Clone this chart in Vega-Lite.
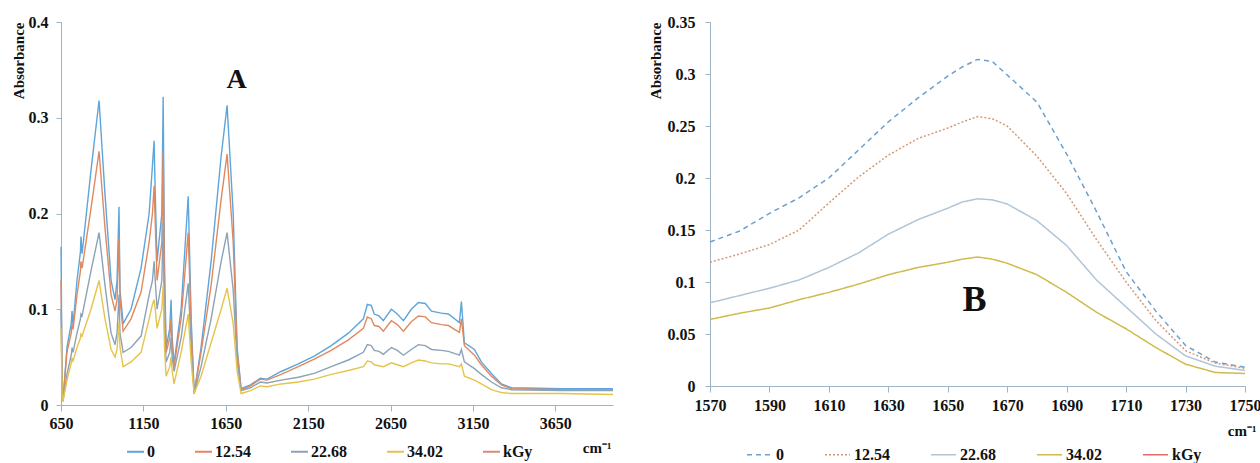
{
"$schema":"https://vega.github.io/schema/vega-lite/v6.json",
"padding":{"left":10,"top":14,"right":5,"bottom":0},
"background":"white",
"spacing":31,
"config":{"view":{"stroke":null},"font":"Liberation Serif",
"axis":{"labelFont":"Liberation Serif","labelFontWeight":"bold","labelFontSize":16,"labelColor":"#111","titleFont":"Liberation Serif","titleFontWeight":"bold","titleFontSize":15,"titleColor":"#111","domainColor":"#9DB4C6","tickColor":"#9DB4C6","grid":false,"tickSize":5,"labelFlush":false,"labelOverlap":false},
"legend":{"labelFont":"Liberation Serif","labelFontWeight":"bold","labelFontSize":16,"labelColor":"#111"}},
"datasets":{
"A":[
{"wn":650,"s":"0","a":0.165},{"wn":657,"s":"0","a":0.02},{"wn":662,"s":"0","a":0.004},{"wn":686,"s":"0","a":0.06},{"wn":712,"s":"0","a":0.085},{"wn":717,"s":"0","a":0.098},{"wn":723,"s":"0","a":0.083},{"wn":747,"s":"0","a":0.13},{"wn":768,"s":"0","a":0.16},{"wn":771,"s":"0","a":0.176},
{"wn":778,"s":"0","a":0.158},{"wn":832,"s":"0","a":0.245},{"wn":881,"s":"0","a":0.318},{"wn":917,"s":"0","a":0.22},{"wn":954,"s":"0","a":0.13},{"wn":978,"s":"0","a":0.11},{"wn":990,"s":"0","a":0.13},{"wn":1002,"s":"0","a":0.207},{"wn":1008,"s":"0","a":0.12},{"wn":1027,"s":"0","a":0.085},
{"wn":1075,"s":"0","a":0.1},{"wn":1136,"s":"0","a":0.143},{"wn":1185,"s":"0","a":0.2},{"wn":1205,"s":"0","a":0.25},{"wn":1215,"s":"0","a":0.276},{"wn":1222,"s":"0","a":0.22},{"wn":1233,"s":"0","a":0.15},{"wn":1262,"s":"0","a":0.2},{"wn":1270,"s":"0","a":0.322},{"wn":1278,"s":"0","a":0.15},
{"wn":1288,"s":"0","a":0.06},{"wn":1310,"s":"0","a":0.08},{"wn":1318,"s":"0","a":0.11},{"wn":1325,"s":"0","a":0.07},{"wn":1336,"s":"0","a":0.043},{"wn":1379,"s":"0","a":0.1},{"wn":1422,"s":"0","a":0.218},{"wn":1440,"s":"0","a":0.09},{"wn":1458,"s":"0","a":0.012},{"wn":1500,"s":"0","a":0.06},
{"wn":1561,"s":"0","a":0.15},{"wn":1622,"s":"0","a":0.26},{"wn":1658,"s":"0","a":0.313},{"wn":1695,"s":"0","a":0.2},{"wn":1719,"s":"0","a":0.06},{"wn":1743,"s":"0","a":0.017},{"wn":1800,"s":"0","a":0.021},{"wn":1860,"s":"0","a":0.028},{"wn":1900,"s":"0","a":0.027},{"wn":1986,"s":"0","a":0.035},
{"wn":2090,"s":"0","a":0.043},{"wn":2187,"s":"0","a":0.051},{"wn":2290,"s":"0","a":0.062},{"wn":2394,"s":"0","a":0.075},{"wn":2485,"s":"0","a":0.09},{"wn":2509,"s":"0","a":0.105},{"wn":2533,"s":"0","a":0.104},{"wn":2551,"s":"0","a":0.095},{"wn":2580,"s":"0","a":0.093},{"wn":2606,"s":"0","a":0.088},
{"wn":2655,"s":"0","a":0.1},{"wn":2691,"s":"0","a":0.095},{"wn":2728,"s":"0","a":0.088},{"wn":2776,"s":"0","a":0.1},{"wn":2819,"s":"0","a":0.107},{"wn":2861,"s":"0","a":0.106},{"wn":2898,"s":"0","a":0.098},{"wn":2958,"s":"0","a":0.096},{"wn":3001,"s":"0","a":0.095},{"wn":3068,"s":"0","a":0.086},
{"wn":3080,"s":"0","a":0.108},{"wn":3098,"s":"0","a":0.065},{"wn":3159,"s":"0","a":0.058},{"wn":3201,"s":"0","a":0.045},{"wn":3262,"s":"0","a":0.033},{"wn":3323,"s":"0","a":0.022},{"wn":3384,"s":"0","a":0.018},{"wn":3688,"s":"0","a":0.017},{"wn":4000,"s":"0","a":0.017},
{"wn":650,"s":"12.54","a":0.13},{"wn":657,"s":"12.54","a":0.018},{"wn":662,"s":"12.54","a":0.004},{"wn":686,"s":"12.54","a":0.055},{"wn":712,"s":"12.54","a":0.075},{"wn":717,"s":"12.54","a":0.085},{"wn":723,"s":"12.54","a":0.079},{"wn":747,"s":"12.54","a":0.115},{"wn":768,"s":"12.54","a":0.14},{"wn":771,"s":"12.54","a":0.15},
{"wn":778,"s":"12.54","a":0.143},{"wn":832,"s":"12.54","a":0.205},{"wn":881,"s":"12.54","a":0.265},{"wn":917,"s":"12.54","a":0.185},{"wn":954,"s":"12.54","a":0.115},{"wn":978,"s":"12.54","a":0.098},{"wn":990,"s":"12.54","a":0.11},{"wn":1002,"s":"12.54","a":0.175},{"wn":1008,"s":"12.54","a":0.11},{"wn":1027,"s":"12.54","a":0.077},
{"wn":1075,"s":"12.54","a":0.09},{"wn":1136,"s":"12.54","a":0.118},{"wn":1185,"s":"12.54","a":0.17},{"wn":1205,"s":"12.54","a":0.2},{"wn":1215,"s":"12.54","a":0.229},{"wn":1222,"s":"12.54","a":0.19},{"wn":1233,"s":"12.54","a":0.13},{"wn":1262,"s":"12.54","a":0.17},{"wn":1270,"s":"12.54","a":0.265},{"wn":1278,"s":"12.54","a":0.12},
{"wn":1288,"s":"12.54","a":0.055},{"wn":1310,"s":"12.54","a":0.07},{"wn":1318,"s":"12.54","a":0.09},{"wn":1325,"s":"12.54","a":0.06},{"wn":1336,"s":"12.54","a":0.04},{"wn":1379,"s":"12.54","a":0.09},{"wn":1422,"s":"12.54","a":0.18},{"wn":1440,"s":"12.54","a":0.08},{"wn":1458,"s":"12.54","a":0.012},{"wn":1500,"s":"12.54","a":0.055},
{"wn":1561,"s":"12.54","a":0.125},{"wn":1622,"s":"12.54","a":0.215},{"wn":1658,"s":"12.54","a":0.262},{"wn":1695,"s":"12.54","a":0.17},{"wn":1719,"s":"12.54","a":0.055},{"wn":1743,"s":"12.54","a":0.016},{"wn":1800,"s":"12.54","a":0.02},{"wn":1860,"s":"12.54","a":0.027},{"wn":1900,"s":"12.54","a":0.026},{"wn":1986,"s":"12.54","a":0.032},
{"wn":2090,"s":"12.54","a":0.04},{"wn":2187,"s":"12.54","a":0.048},{"wn":2290,"s":"12.54","a":0.057},{"wn":2394,"s":"12.54","a":0.068},{"wn":2485,"s":"12.54","a":0.08},{"wn":2509,"s":"12.54","a":0.092},{"wn":2533,"s":"12.54","a":0.09},{"wn":2551,"s":"12.54","a":0.083},{"wn":2580,"s":"12.54","a":0.082},{"wn":2606,"s":"12.54","a":0.077},
{"wn":2655,"s":"12.54","a":0.088},{"wn":2691,"s":"12.54","a":0.084},{"wn":2728,"s":"12.54","a":0.077},{"wn":2776,"s":"12.54","a":0.087},{"wn":2819,"s":"12.54","a":0.093},{"wn":2861,"s":"12.54","a":0.092},{"wn":2898,"s":"12.54","a":0.086},{"wn":2958,"s":"12.54","a":0.084},{"wn":3001,"s":"12.54","a":0.083},{"wn":3068,"s":"12.54","a":0.076},
{"wn":3080,"s":"12.54","a":0.09},{"wn":3098,"s":"12.54","a":0.062},{"wn":3159,"s":"12.54","a":0.052},{"wn":3201,"s":"12.54","a":0.042},{"wn":3262,"s":"12.54","a":0.03},{"wn":3323,"s":"12.54","a":0.021},{"wn":3384,"s":"12.54","a":0.017},{"wn":3688,"s":"12.54","a":0.016},{"wn":4000,"s":"12.54","a":0.016},
{"wn":650,"s":"22.68","a":0.1},{"wn":657,"s":"22.68","a":0.015},{"wn":662,"s":"22.68","a":0.004},{"wn":686,"s":"22.68","a":0.032},{"wn":712,"s":"22.68","a":0.052},{"wn":717,"s":"22.68","a":0.06},{"wn":723,"s":"22.68","a":0.055},{"wn":747,"s":"22.68","a":0.075},{"wn":768,"s":"22.68","a":0.09},{"wn":771,"s":"22.68","a":0.095},
{"wn":778,"s":"22.68","a":0.093},{"wn":832,"s":"22.68","a":0.14},{"wn":881,"s":"22.68","a":0.18},{"wn":917,"s":"22.68","a":0.125},{"wn":954,"s":"22.68","a":0.075},{"wn":978,"s":"22.68","a":0.063},{"wn":990,"s":"22.68","a":0.075},{"wn":1002,"s":"22.68","a":0.115},{"wn":1008,"s":"22.68","a":0.075},{"wn":1027,"s":"22.68","a":0.055},
{"wn":1075,"s":"22.68","a":0.06},{"wn":1136,"s":"22.68","a":0.072},{"wn":1185,"s":"22.68","a":0.115},{"wn":1205,"s":"22.68","a":0.13},{"wn":1215,"s":"22.68","a":0.15},{"wn":1222,"s":"22.68","a":0.13},{"wn":1233,"s":"22.68","a":0.1},{"wn":1262,"s":"22.68","a":0.13},{"wn":1270,"s":"22.68","a":0.19},{"wn":1278,"s":"22.68","a":0.08},
{"wn":1288,"s":"22.68","a":0.045},{"wn":1310,"s":"22.68","a":0.055},{"wn":1318,"s":"22.68","a":0.07},{"wn":1325,"s":"22.68","a":0.05},{"wn":1336,"s":"22.68","a":0.035},{"wn":1379,"s":"22.68","a":0.07},{"wn":1422,"s":"22.68","a":0.127},{"wn":1440,"s":"22.68","a":0.06},{"wn":1458,"s":"22.68","a":0.012},{"wn":1500,"s":"22.68","a":0.04},
{"wn":1561,"s":"22.68","a":0.09},{"wn":1622,"s":"22.68","a":0.15},{"wn":1658,"s":"22.68","a":0.18},{"wn":1695,"s":"22.68","a":0.12},{"wn":1719,"s":"22.68","a":0.045},{"wn":1743,"s":"22.68","a":0.015},{"wn":1800,"s":"22.68","a":0.018},{"wn":1860,"s":"22.68","a":0.024},{"wn":1900,"s":"22.68","a":0.023},{"wn":1986,"s":"22.68","a":0.026},
{"wn":2090,"s":"22.68","a":0.029},{"wn":2187,"s":"22.68","a":0.033},{"wn":2290,"s":"22.68","a":0.04},{"wn":2394,"s":"22.68","a":0.047},{"wn":2485,"s":"22.68","a":0.055},{"wn":2509,"s":"22.68","a":0.063},{"wn":2533,"s":"22.68","a":0.062},{"wn":2551,"s":"22.68","a":0.057},{"wn":2580,"s":"22.68","a":0.056},{"wn":2606,"s":"22.68","a":0.053},
{"wn":2655,"s":"22.68","a":0.06},{"wn":2691,"s":"22.68","a":0.057},{"wn":2728,"s":"22.68","a":0.052},{"wn":2776,"s":"22.68","a":0.058},{"wn":2819,"s":"22.68","a":0.063},{"wn":2861,"s":"22.68","a":0.062},{"wn":2898,"s":"22.68","a":0.058},{"wn":2958,"s":"22.68","a":0.057},{"wn":3001,"s":"22.68","a":0.056},{"wn":3068,"s":"22.68","a":0.052},
{"wn":3080,"s":"22.68","a":0.058},{"wn":3098,"s":"22.68","a":0.045},{"wn":3159,"s":"22.68","a":0.038},{"wn":3201,"s":"22.68","a":0.032},{"wn":3262,"s":"22.68","a":0.024},{"wn":3323,"s":"22.68","a":0.018},{"wn":3384,"s":"22.68","a":0.016},{"wn":3688,"s":"22.68","a":0.015},{"wn":4000,"s":"22.68","a":0.015},
{"wn":650,"s":"34.02","a":0.08},{"wn":657,"s":"34.02","a":0.012},{"wn":662,"s":"34.02","a":0.004},{"wn":686,"s":"34.02","a":0.026},{"wn":712,"s":"34.02","a":0.044},{"wn":717,"s":"34.02","a":0.049},{"wn":723,"s":"34.02","a":0.046},{"wn":747,"s":"34.02","a":0.06},{"wn":768,"s":"34.02","a":0.07},{"wn":771,"s":"34.02","a":0.074},
{"wn":778,"s":"34.02","a":0.072},{"wn":832,"s":"34.02","a":0.1},{"wn":881,"s":"34.02","a":0.13},{"wn":917,"s":"34.02","a":0.09},{"wn":954,"s":"34.02","a":0.058},{"wn":978,"s":"34.02","a":0.05},{"wn":990,"s":"34.02","a":0.058},{"wn":1002,"s":"34.02","a":0.087},{"wn":1008,"s":"34.02","a":0.06},{"wn":1027,"s":"34.02","a":0.04},
{"wn":1075,"s":"34.02","a":0.045},{"wn":1136,"s":"34.02","a":0.055},{"wn":1185,"s":"34.02","a":0.09},{"wn":1205,"s":"34.02","a":0.105},{"wn":1215,"s":"34.02","a":0.11},{"wn":1222,"s":"34.02","a":0.1},{"wn":1233,"s":"34.02","a":0.08},{"wn":1262,"s":"34.02","a":0.1},{"wn":1270,"s":"34.02","a":0.125},{"wn":1278,"s":"34.02","a":0.06},
{"wn":1288,"s":"34.02","a":0.03},{"wn":1310,"s":"34.02","a":0.04},{"wn":1318,"s":"34.02","a":0.05},{"wn":1325,"s":"34.02","a":0.035},{"wn":1336,"s":"34.02","a":0.022},{"wn":1379,"s":"34.02","a":0.055},{"wn":1422,"s":"34.02","a":0.095},{"wn":1440,"s":"34.02","a":0.045},{"wn":1458,"s":"34.02","a":0.012},{"wn":1500,"s":"34.02","a":0.03},
{"wn":1561,"s":"34.02","a":0.065},{"wn":1622,"s":"34.02","a":0.1},{"wn":1658,"s":"34.02","a":0.122},{"wn":1695,"s":"34.02","a":0.085},{"wn":1719,"s":"34.02","a":0.035},{"wn":1743,"s":"34.02","a":0.012},{"wn":1800,"s":"34.02","a":0.015},{"wn":1860,"s":"34.02","a":0.02},{"wn":1900,"s":"34.02","a":0.019},{"wn":1986,"s":"34.02","a":0.022},
{"wn":2090,"s":"34.02","a":0.024},{"wn":2187,"s":"34.02","a":0.027},{"wn":2290,"s":"34.02","a":0.032},{"wn":2394,"s":"34.02","a":0.036},{"wn":2485,"s":"34.02","a":0.04},{"wn":2509,"s":"34.02","a":0.046},{"wn":2533,"s":"34.02","a":0.045},{"wn":2551,"s":"34.02","a":0.042},{"wn":2580,"s":"34.02","a":0.041},{"wn":2606,"s":"34.02","a":0.04},
{"wn":2655,"s":"34.02","a":0.044},{"wn":2691,"s":"34.02","a":0.042},{"wn":2728,"s":"34.02","a":0.04},{"wn":2776,"s":"34.02","a":0.044},{"wn":2819,"s":"34.02","a":0.047},{"wn":2861,"s":"34.02","a":0.046},{"wn":2898,"s":"34.02","a":0.044},{"wn":2958,"s":"34.02","a":0.043},{"wn":3001,"s":"34.02","a":0.043},{"wn":3068,"s":"34.02","a":0.04},
{"wn":3080,"s":"34.02","a":0.043},{"wn":3098,"s":"34.02","a":0.03},{"wn":3159,"s":"34.02","a":0.026},{"wn":3201,"s":"34.02","a":0.022},{"wn":3262,"s":"34.02","a":0.016},{"wn":3323,"s":"34.02","a":0.013},{"wn":3384,"s":"34.02","a":0.012},{"wn":3688,"s":"34.02","a":0.012},{"wn":4000,"s":"34.02","a":0.011}
],
"B":[
{"wn":1570,"s":"0","a":0.1385},{"wn":1580,"s":"0","a":0.149},{"wn":1590,"s":"0","a":0.166},{"wn":1600,"s":"0","a":0.181},{"wn":1610,"s":"0","a":0.2},{"wn":1620,"s":"0","a":0.227},{"wn":1630,"s":"0","a":0.254},{"wn":1640,"s":"0","a":0.277},{"wn":1650,"s":"0","a":0.298},{"wn":1655,"s":"0","a":0.307},{"wn":1660,"s":"0","a":0.314},{"wn":1665,"s":"0","a":0.312},{"wn":1670,"s":"0","a":0.299},{"wn":1680,"s":"0","a":0.273},{"wn":1690,"s":"0","a":0.223},{"wn":1700,"s":"0","a":0.168},{"wn":1710,"s":"0","a":0.11},{"wn":1720,"s":"0","a":0.072},{"wn":1730,"s":"0","a":0.039},{"wn":1740,"s":"0","a":0.023},{"wn":1750,"s":"0","a":0.018},
{"wn":1570,"s":"12.54","a":0.119},{"wn":1580,"s":"12.54","a":0.127},{"wn":1590,"s":"12.54","a":0.136},{"wn":1600,"s":"12.54","a":0.15},{"wn":1610,"s":"12.54","a":0.176},{"wn":1620,"s":"12.54","a":0.201},{"wn":1630,"s":"12.54","a":0.222},{"wn":1640,"s":"12.54","a":0.238},{"wn":1650,"s":"12.54","a":0.248},{"wn":1655,"s":"12.54","a":0.254},{"wn":1660,"s":"12.54","a":0.259},{"wn":1665,"s":"12.54","a":0.257},{"wn":1670,"s":"12.54","a":0.25},{"wn":1680,"s":"12.54","a":0.221},{"wn":1690,"s":"12.54","a":0.185},{"wn":1700,"s":"12.54","a":0.141},{"wn":1710,"s":"12.54","a":0.1},{"wn":1720,"s":"12.54","a":0.063},{"wn":1730,"s":"12.54","a":0.034},{"wn":1740,"s":"12.54","a":0.022},{"wn":1750,"s":"12.54","a":0.017},
{"wn":1570,"s":"22.68","a":0.08},{"wn":1580,"s":"22.68","a":0.087},{"wn":1590,"s":"22.68","a":0.094},{"wn":1600,"s":"22.68","a":0.102},{"wn":1610,"s":"22.68","a":0.114},{"wn":1620,"s":"22.68","a":0.128},{"wn":1630,"s":"22.68","a":0.146},{"wn":1640,"s":"22.68","a":0.16},{"wn":1650,"s":"22.68","a":0.171},{"wn":1655,"s":"22.68","a":0.177},{"wn":1660,"s":"22.68","a":0.18},{"wn":1665,"s":"22.68","a":0.179},{"wn":1670,"s":"22.68","a":0.175},{"wn":1680,"s":"22.68","a":0.159},{"wn":1690,"s":"22.68","a":0.135},{"wn":1700,"s":"22.68","a":0.102},{"wn":1710,"s":"22.68","a":0.076},{"wn":1720,"s":"22.68","a":0.05},{"wn":1730,"s":"22.68","a":0.029},{"wn":1740,"s":"22.68","a":0.019},{"wn":1750,"s":"22.68","a":0.015},
{"wn":1570,"s":"34.02","a":0.064},{"wn":1580,"s":"34.02","a":0.07},{"wn":1590,"s":"34.02","a":0.075},{"wn":1600,"s":"34.02","a":0.083},{"wn":1610,"s":"34.02","a":0.09},{"wn":1620,"s":"34.02","a":0.098},{"wn":1630,"s":"34.02","a":0.107},{"wn":1640,"s":"34.02","a":0.114},{"wn":1650,"s":"34.02","a":0.119},{"wn":1655,"s":"34.02","a":0.122},{"wn":1660,"s":"34.02","a":0.124},{"wn":1665,"s":"34.02","a":0.122},{"wn":1670,"s":"34.02","a":0.118},{"wn":1680,"s":"34.02","a":0.107},{"wn":1690,"s":"34.02","a":0.09},{"wn":1700,"s":"34.02","a":0.071},{"wn":1710,"s":"34.02","a":0.055},{"wn":1720,"s":"34.02","a":0.037},{"wn":1730,"s":"34.02","a":0.021},{"wn":1740,"s":"34.02","a":0.013},{"wn":1750,"s":"34.02","a":0.012}
],
"labA":[{"wn":1716,"a":0.339,"t":"A"}],
"labB":[{"wn":1659,"a":0.0824,"t":"B"}]
},
"hconcat":[
{"width":552,"height":383,
"encoding":{
"x":{"field":"wn","type":"quantitative","scale":{"domain":[650,4000],"nice":false,"zero":false},"axis":{"values":[650,1150,1650,2150,2650,3150,3650],"format":"d","title":"cm⁻¹","titleX":550,"titleY":47,"titleAlign":"right","titleBaseline":"alphabetic","tickSize":6,"labelPadding":4}},
"y":{"field":"a","type":"quantitative","scale":{"domain":[0,0.4],"nice":false},"axis":{"values":[0,0.1,0.2,0.3,0.4],"format":"~g","title":"Absorbance","titleAnchor":"end","titlePadding":2,"labelPadding":8}}},
"layer":[
{"data":{"name":"A"},"mark":{"type":"line","strokeWidth":1.4},
"encoding":{"color":{"field":"s","type":"nominal","scale":{"domain":["0","12.54","22.68","34.02","kGy"],"range":["#5DA5DA","#E0895F","#8BA3B8","#E6C34A","#D9897F"]},
"legend":{"orient":"none","legendX":65,"legendY":420,"direction":"horizontal","title":null,"symbolType":"stroke","symbolSize":289,"symbolStrokeWidth":2,"labelOffset":2,"columnPadding":36}}}},
{"data":{"name":"labA"},"mark":{"type":"text","fontSize":28,"fontWeight":"bold","font":"Liberation Serif","color":"#111"},
"encoding":{"text":{"field":"t"}}}
]},
{"width":535,"height":364,
"encoding":{
"x":{"field":"wn","type":"quantitative","scale":{"domain":[1570,1750],"nice":false,"zero":false},"axis":{"values":[1570,1590,1610,1630,1650,1670,1690,1710,1730,1750],"format":"d","title":"cm⁻¹","titleX":546,"titleY":49,"titleAlign":"right","titleBaseline":"alphabetic","tickSize":6,"labelPadding":5}},
"y":{"field":"a","type":"quantitative","scale":{"domain":[0,0.35],"nice":false},"axis":{"values":[0,0.05,0.1,0.15,0.2,0.25,0.3,0.35],"format":"~g","title":"Absorbance","titleAnchor":"end","titlePadding":4,"labelPadding":10}}},
"layer":[
{"data":{"name":"B"},"mark":{"type":"line","strokeWidth":1.5},
"encoding":{
"color":{"field":"s","type":"nominal","scale":{"domain":["0","12.54","22.68","34.02","kGy"],"range":["#6E9FCD","#D49A78","#AFC5D8","#CDBB4C","#E06A6A"]},
"legend":{"orient":"none","legendX":36,"legendY":419,"direction":"horizontal","title":null,"symbolType":"stroke","symbolSize":625,"symbolStrokeWidth":1.5,"labelOffset":3,"columnPadding":38}},
"strokeDash":{"field":"s","type":"nominal","scale":{"domain":["0","12.54","22.68","34.02","kGy"],"range":[[5,4],[2,2],[1,0],[1,0],[1,0]]},
"legend":{"orient":"none","legendX":36,"legendY":419,"direction":"horizontal","title":null,"symbolType":"stroke","symbolSize":625,"symbolStrokeWidth":1.5,"labelOffset":3,"columnPadding":38}}}},
{"data":{"name":"labB"},"mark":{"type":"text","fontSize":36,"fontWeight":"bold","font":"Liberation Serif","color":"#111"},
"encoding":{"text":{"field":"t"}}}
]}
],
"resolve":{"scale":{"color":"independent","strokeDash":"independent","x":"independent","y":"independent"}}
}
